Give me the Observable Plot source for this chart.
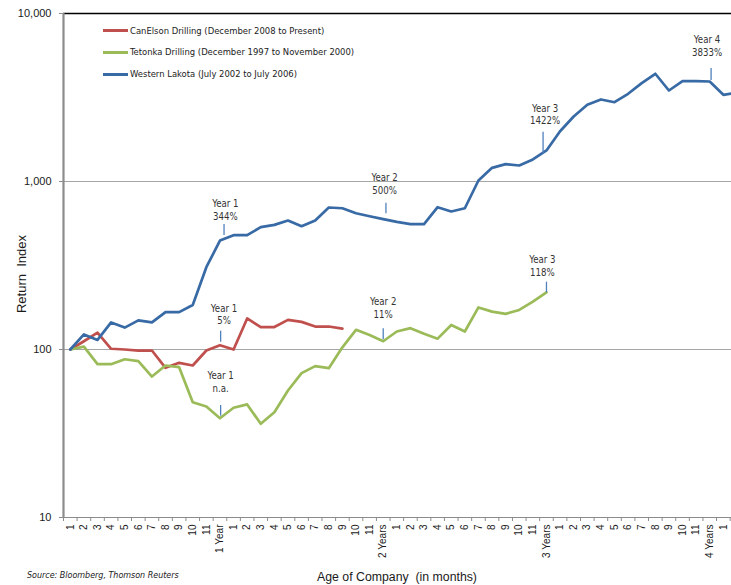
<!DOCTYPE html>
<html>
<head>
<meta charset="utf-8">
<script src="https://cdn.jsdelivr.net/npm/d3@7"></script>
<script src="https://cdn.jsdelivr.net/npm/@observablehq/plot@0.6"></script>
<style>
  html, body { margin: 0; padding: 0; background: #fff; }
  #wrap { position: relative; width: 731px; height: 585px; overflow: hidden; }
  #wrap svg { position: absolute; left: 0; top: 0; }
  .ov { position: absolute; white-space: pre; color: #1a1a1a; }
  .narrow { font-family: "Liberation Sans Narrow", "DejaVu Sans Condensed", "Liberation Sans", sans-serif; }
  .reg { font-family: "Liberation Sans", Arial, sans-serif; }
</style>
</head>
<body>
<div id="wrap"></div>
<script>
// ---- data ----
const xLabels = [
  "1","2","3","4","5","6","7","8","9","10","11","1 Year",
  "1","2","3","4","5","6","7","8","9","10","11","2 Years",
  "1","2","3","4","5","6","7","8","9","10","11","3 Years",
  "1","2","3","4","5","6","7","8","9","10","11","4 Years",
  "1"
];
const seriesNames = [
  "CanElson Drilling (December 2008 to Present)",
  "Tetonka Drilling (December 1997 to November 2000)",
  "Western Lakota (July 2002 to July 2006)"
];
const seriesColors = ["#c0504d", "#9bbb59", "#386aa5"];

const canElson = [100,112,126,101,100,98.6,98.6,77.8,83.3,80.3,98.6,106,100,153,136,136,150,146,137,137,133];
const tetonka = [100,104,81.8,81.8,87.5,85.3,69,80.3,78.5,48.5,45.8,39,45,47.1,36.1,42.3,57,72.3,79.6,77.4,103,131,122,112,128,134,124,116,140,128,178,168,163,172,193,219];
const westernLakota = [100,123,114,145,135,149,145,167,167,184,309,445,479,479,535,552,586,542,586,700,693,647,621,597,575,558,558,703,663,693,1014,1206,1268,1245,1352,1530,1992,2436,2862,3078,2965,3327,3849,4378,3481,3953,3953,3937,3281,3380];

const yTicks = [10, 100, 1000, 10000];

// annotations (month index / index value)
const annLabels = ["Year 1\n344%","Year 2\n500%","Year 3\n1422%","Year 4\n3833%","Year 1\n5%","Year 1\nn.a.","Year 2\n11%","Year 3\n118%"];
const annTextX = [11.4, 23.1, 34.9, 46.8, 11.3, 11.05, 23.0, 34.7];
const annTextY = [594, 848, 2185, 5623, 141, 56.2, 155, 275];
const annTickX = [11.3, 23.2, 34.75, 47.1, 11.05, 11.05, 23.0, 35.0];
const annTickTop = [555, 743, 1966, 4706, 128.5, 46.4, 132.8, 251.5];
const annTickBottom = [477, 642, 1462, 3994, 110.5, 40.1, 114.2, 217.5];

// ---- build tables ----
const toRows = (arr, name) => arr.map((v, i) => ({i, v, name}));
const rows = [
  ...toRows(canElson, seriesNames[0]),
  ...toRows(tetonka, seriesNames[1]),
  ...toRows(westernLakota, seriesNames[2])
];
const ann = annLabels.map((t, k) => ({
  t, tx: annTextX[k], ty: annTextY[k], kx: annTickX[k], k1: annTickTop[k], k2: annTickBottom[k]
}));
const narrowFont = "Liberation Sans Narrow, DejaVu Sans Condensed, Liberation Sans, sans-serif";

const chart = Plot.plot({
  width: 731,
  height: 585,
  marginLeft: 63,
  marginRight: 0,
  marginTop: 13,
  marginBottom: 68,
  style: { fontFamily: "Liberation Sans, Arial, sans-serif", fontSize: "10px", color: "#1a1a1a", background: "transparent", overflow: "visible" },
  x: { type: "linear", domain: [-0.5, 48.6] },
  y: { type: "log", domain: [10, 10000] },
  color: { domain: seriesNames, range: seriesColors },
  marks: [
    Plot.ruleY([100, 1000], { stroke: "#a6a6a6", strokeWidth: 1 }),
    Plot.ruleY([10], { stroke: "#8c8c8c", strokeWidth: 1 }),
    Plot.ruleY([10000], { stroke: "#000", strokeWidth: 1.5 }),
    Plot.axisY({ ticks: yTicks, tickFormat: d3.format(","), tickSize: 4, tickPadding: 8, stroke: "#8c8c8c", fontSize: 11, label: null }),
    Plot.axisX({ ticks: d3.range(-0.5, 48.6, 1), tickFormat: () => "", tickSize: 4, stroke: "#8c8c8c", label: null }),
    Plot.axisX({ ticks: d3.range(0, 49), tickFormat: i => xLabels[i], tickRotate: -90, tickSize: 0, tickPadding: 7, fontSize: 10, label: null }),
    Plot.ruleX([-0.5], { stroke: "#8c8c8c", strokeWidth: 2.2 }),
    Plot.line(rows, { x: "i", y: "v", z: "name", stroke: "name", strokeWidth: 2.7, strokeLinejoin: "round", clip: true }),
    Plot.ruleX(ann, { x: "kx", y1: "k1", y2: "k2", stroke: "#4f81bd", strokeWidth: 1.3 }),
    Plot.text(ann, { x: "tx", y: "ty", text: "t", lineAnchor: "bottom", lineHeight: 1.3, fontFamily: narrowFont, fontSize: 9.6, fill: "#333" })
  ]
});

const wrap = document.getElementById("wrap");
wrap.appendChild(chart);

function addDiv(text, cls, css) {
  const d = document.createElement("div");
  d.className = "ov " + cls;
  d.textContent = text;
  Object.assign(d.style, css);
  wrap.appendChild(d);
  return d;
}

// legend
const legY = [30.7, 52.3, 74];
seriesNames.forEach((n, k) => {
  const sw = document.createElement("div");
  Object.assign(sw.style, { position: "absolute", left: "103px", top: (legY[k] - 1.5) + "px", width: "25px", height: "3px", background: seriesColors[k] });
  wrap.appendChild(sw);
  addDiv(n, "narrow", { left: "130px", top: (legY[k] - 6) + "px", fontSize: "9.4px", lineHeight: "12px", color: "#222" });
});

// axis titles and source
addDiv("Return  Index", "reg", { left: "22px", top: "274px", fontSize: "13px", lineHeight: "14px", transform: "translate(-50%,-50%) rotate(-90deg)" });
addDiv("Age of Company  (in months)", "reg", { left: "397px", top: "577px", fontSize: "12.3px", lineHeight: "14px", transform: "translate(-50%,-50%)" });
addDiv("Source: Bloomberg, Thomson Reuters", "narrow", { left: "27px", top: "569px", fontSize: "8.9px", lineHeight: "12px", fontStyle: "italic" });
</script>
</body>
</html>
